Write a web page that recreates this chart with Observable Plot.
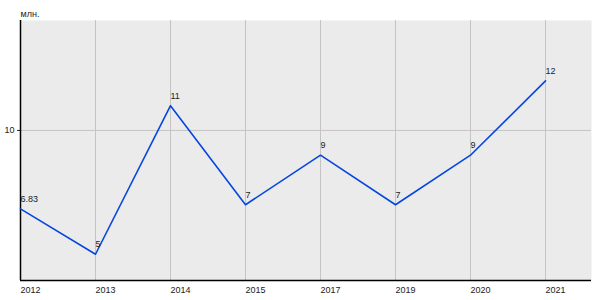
<!DOCTYPE html>
<html><head><meta charset="utf-8">
<script src="https://cdn.jsdelivr.net/npm/d3@7"></script>
<script src="https://cdn.jsdelivr.net/npm/@observablehq/plot@0.6"></script>
<style>body{margin:0;background:#fff}</style>
</head><body><div id="chart"></div>
<script>
const years = ["2012","2013","2014","2015","2017","2019","2020","2021"];
const values = [6.83, 5, 11, 7, 9, 7, 9, 12];
const labels = ["6.83","5","11","7","9","7","9","12"];
const yTicks = [10];
const unit = "млн.";

const data = years.map((y, i) => ({year: y, value: values[i], label: labels[i]}));

const chart = Plot.plot({
  width: 600, height: 300,
  marginLeft: 20, marginRight: 9, marginTop: 20, marginBottom: 20,
  style: {fontFamily: "Liberation Sans, Arial, sans-serif", fontSize: "9px", color: "#222", background: "#fff"},
  x: {type: "point", domain: years, range: [20, 545], padding: 0, align: 0, label: null},
  y: {domain: [3.94, 14.44], label: null},
  marks: [
    Plot.frame({fill: "#ebebeb", stroke: null}),
    Plot.gridX(years, {stroke: "#c4c4c4", strokeOpacity: 1}),
    Plot.gridY(yTicks, {stroke: "#c4c4c4", strokeOpacity: 1}),
    Plot.axisX({tickSize: 0, tickPadding: 6, textAnchor: "start", fontSize: 9}),
    Plot.axisY(yTicks, {tickSize: 3, tickPadding: 3, fontSize: 9}),
    Plot.ruleX([0], {x: () => years[0], stroke: "#000", strokeWidth: 1.5}),
    Plot.ruleY([3.94], {stroke: "#000", strokeWidth: 1.5}),
    Plot.line(data, {x: "year", y: "value", stroke: "#0646e0", strokeWidth: 1.6}),
    Plot.text(data, {x: "year", y: "value", text: "label", textAnchor: "start", dy: -10, fill: "#222", fontSize: 9}),
    Plot.text([unit], {frameAnchor: "top-left", dy: -10, dx: 0, textAnchor: "start", fill: "#222", fontSize: 9})
  ]
});
document.getElementById("chart").appendChild(chart);
</script>
</body></html>
